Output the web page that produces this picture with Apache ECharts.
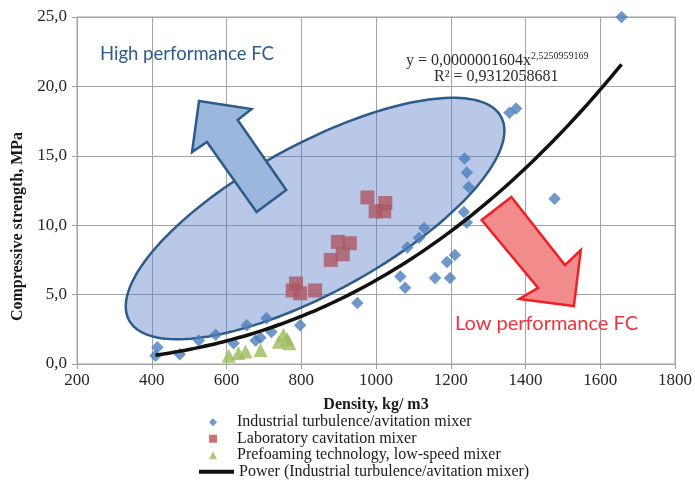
<!DOCTYPE html>
<html>
<head>
<meta charset="utf-8">
<script src="https://cdn.jsdelivr.net/npm/echarts@6/dist/echarts.min.js"></script>
<style>
  html, body { margin: 0; padding: 0; background: #ffffff; }
  #chart { width: 695px; height: 484px; }
</style>
</head>
<body>
<div id="chart"></div>
<script>
// Industrial turbulence/cavitation mixer: density (kg/m3) and compressive strength (MPa)
const industrialDensity = [410, 415, 475, 526, 571, 619, 654, 678, 691, 707, 720, 797, 950, 1065, 1078, 1084, 1115, 1129, 1158, 1190, 1198, 1211, 1235, 1243, 1237, 1243, 1248, 1357, 1375, 1478, 1657];
const industrialStrength = [0.6, 1.2, 0.7, 1.7, 2.1, 1.5, 2.8, 1.7, 1.9, 3.3, 2.3, 2.8, 4.4, 6.3, 5.5, 8.4, 9.1, 9.8, 6.2, 7.35, 6.2, 7.85, 10.95, 10.2, 14.8, 13.8, 12.75, 18.1, 18.4, 11.9, 25.0];

// Laboratory cavitation mixer
const labDensity = [777, 786, 797, 837, 879, 898, 911, 930, 977, 999, 1022, 1025];
const labStrength = [5.3, 5.8, 5.1, 5.3, 7.5, 8.8, 7.9, 8.7, 12.0, 11.0, 11.0, 11.6];

// Prefoaming technology, low-speed mixer
const prefoamDensity = [606, 632, 651, 691, 740, 752, 762, 768];
const prefoamStrength = [0.6, 0.8, 0.9, 1.0, 1.6, 2.1, 1.8, 1.5];

// Power trend line fitted to the industrial series: y = a * x^b
const trendCoefA = 0.0000001604;
const trendCoefB = 2.5250959169;
const trendR2Text = '0,9312058681';
const trendRange = [410, 1657];

// Axis ticks
const densityTicks = [200, 400, 600, 800, 1000, 1200, 1400, 1600, 1800];
const strengthTicks = [0, 5, 10, 15, 20, 25];

const seriesNames = [
  'Industrial turbulence/avitation mixer',
  'Laboratory cavitation mixer',
  'Prefoaming technology, low-speed mixer',
  'Power (Industrial turbulence/avitation mixer)'
];

const zip = (xs, ys) => xs.map((x, i) => [x, ys[i]]);

const trendPoints = [];
for (let x = trendRange[0]; x <= trendRange[1] + 1e-6; x += (trendRange[1] - trendRange[0]) / 60) {
  trendPoints.push([x, trendCoefA * Math.pow(x, trendCoefB)]);
}

const serif = 'Liberation Serif';
const gridColor = '#a3a3a3';
const legendText = { fontFamily: serif, fontSize: 16, color: '#1a1a1a', lineHeight: 16.5 };

const chart = echarts.init(document.getElementById('chart'), null, { renderer: 'canvas' });

chart.setOption({
  animation: false,
  backgroundColor: '#ffffff',
  grid: {
    left: 77, right: 15, top: 17, bottom: 120,
    show: true, borderColor: gridColor, borderWidth: 1
  },
  xAxis: {
    type: 'value',
    min: densityTicks[0], max: densityTicks[densityTicks.length - 1], interval: 200,
    name: 'Density, kg/ m3',
    nameLocation: 'middle', nameGap: 33,
    nameTextStyle: { fontFamily: serif, fontWeight: 'bold', fontSize: 16, color: '#1a1a1a' },
    axisLine: { show: true, lineStyle: { color: gridColor, width: 1 } },
    axisTick: { show: true, inside: false, length: 5, lineStyle: { color: gridColor } },
    axisLabel: { fontFamily: serif, fontSize: 17, color: '#262626', margin: 8, formatter: v => String(v) },
    splitLine: { show: true, lineStyle: { color: gridColor, width: 1 } }
  },
  yAxis: {
    type: 'value',
    min: strengthTicks[0], max: strengthTicks[strengthTicks.length - 1], interval: 5,
    name: 'Compressive strength, MPa',
    nameLocation: 'middle', nameGap: 47, nameRotate: 90,
    nameTextStyle: { fontFamily: serif, fontWeight: 'bold', fontSize: 16, color: '#1a1a1a', padding: [0, 72, 0, 0] },
    axisLine: { show: true, lineStyle: { color: gridColor, width: 1 } },
    axisTick: { show: true, inside: false, length: 5, lineStyle: { color: gridColor } },
    axisLabel: {
      fontFamily: serif, fontSize: 17, color: '#262626', margin: 10,
      formatter: v => v.toFixed(1).replace('.', ',')
    },
    splitLine: { show: true, lineStyle: { color: gridColor, width: 1 } }
  },
  legend: [
    {
      // marker entries: small symbols, text indented to line up with the trend entry
      orient: 'vertical',
      left: 209, top: 414,
      itemWidth: 8, itemHeight: 8, itemGap: 0,
      padding: 0,
      textStyle: Object.assign({ padding: [0, 0, 0, 15] }, legendText),
      data: [
        { name: seriesNames[0] },
        { name: seriesNames[1], itemStyle: { color: '#c0504d' } },
        { name: seriesNames[2] }
      ]
    },
    {
      // trend line entry
      orient: 'vertical',
      left: 197, top: 463.5,
      itemWidth: 35, itemHeight: 8, itemGap: 0,
      padding: 0,
      textStyle: legendText,
      data: [
        { name: seriesNames[3], lineStyle: { width: 4, color: '#111111' }, itemStyle: { opacity: 0 } }
      ]
    }
  ],
  series: [
    {
      name: seriesNames[0], type: 'scatter', symbol: 'diamond', symbolSize: 12.5, z: 3,
      itemStyle: { color: '#4a7ebb' },
      data: zip(industrialDensity, industrialStrength)
    },
    {
      name: seriesNames[1], type: 'scatter', symbol: 'rect', symbolSize: 14, z: 3,
      itemStyle: { color: '#ad5862' },
      data: zip(labDensity, labStrength)
    },
    {
      name: seriesNames[2], type: 'scatter', symbol: 'triangle', symbolSize: 14, z: 3,
      itemStyle: { color: '#9bbb59' },
      data: zip(prefoamDensity, prefoamStrength)
    },
    {
      name: seriesNames[3], type: 'line', showSymbol: false, symbol: 'none', smooth: true, z: 6,
      lineStyle: { color: '#111111', width: 3.5 },
      itemStyle: { color: '#111111' },
      data: trendPoints
    }
  ]
});

// Annotation shapes, anchored in data space (density, strength)
const ellipseCenter = [837, 10.48];
const ellipseSemiAxes = [212, 74];           // pixels
const ellipseTilt = 28.7 * Math.PI / 180;    // radians, rising to the right

const highArrow = [
  [526.4, 18.95], [667.0, 18.37], [629.9, 17.58], [759.9, 12.54],
  [680.3, 10.95], [547.6, 15.99], [507.8, 15.27]
];
const lowArrow = [
  [1282.6, 10.37], [1362.2, 12.03], [1505.5, 7.13], [1547.9, 8.21],
  [1529.4, 4.18], [1383.4, 4.68], [1433.8, 5.48]
];

const toPx = p => chart.convertToPixel({ gridIndex: 0 }, p);

const c = toPx(ellipseCenter);
const ellipsePts = [];
for (let i = 0; i < 160; i++) {
  const t = i / 160 * Math.PI * 2;
  const u = ellipseSemiAxes[0] * Math.cos(t);
  const v = ellipseSemiAxes[1] * Math.sin(t);
  ellipsePts.push([
    c[0] + u * Math.cos(ellipseTilt) + v * Math.sin(ellipseTilt),
    c[1] - u * Math.sin(ellipseTilt) + v * Math.cos(ellipseTilt)
  ]);
}

const sup = '2,5250959169';

chart.setOption({
  graphic: [
    {
      type: 'polygon', z: 1,
      shape: { points: ellipsePts },
      style: { fill: 'rgba(80, 118, 196, 0.40)', stroke: '#2d5b8c', lineWidth: 2.5 }
    },
    {
      type: 'polygon', z: 5,
      shape: { points: highArrow.map(toPx) },
      style: { fill: '#9bb7dd', stroke: '#2d5b8c', lineWidth: 2.5, lineJoin: 'miter' }
    },
    {
      type: 'polygon', z: 5,
      shape: { points: lowArrow.map(toPx) },
      style: { fill: '#f28b8b', stroke: '#ee2226', lineWidth: 2.5, lineJoin: 'miter' }
    },
    {
      type: 'text', z: 7, left: 100, top: 45,
      style: { text: 'High performance FC', fontFamily: 'Lato', fontSize: 18.5, fill: '#2e5a8f' }
    },
    {
      type: 'text', z: 7, left: 455, top: 314,
      style: { text: 'Low performance FC', fontFamily: 'Lato', fontSize: 20, fill: '#f0323c' }
    },
    {
      type: 'text', z: 7, left: 406, top: 51,
      style: {
        text: '{b|y = 0,0000001604x}{s|' + sup + '}',
        rich: {
          b: { fontFamily: serif, fontSize: 16, fill: '#2b2b2b', verticalAlign: 'bottom', lineHeight: 18 },
          s: { fontFamily: serif, fontSize: 10, fill: '#2b2b2b', verticalAlign: 'top', padding: [0, 0, 9, 0], lineHeight: 18 }
        }
      }
    },
    {
      type: 'text', z: 7, left: 434, top: 69,
      style: { text: 'R\u00B2 = ' + trendR2Text, fontFamily: serif, fontSize: 16, fill: '#2b2b2b' }
    }
  ]
});
</script>
</body>
</html>
